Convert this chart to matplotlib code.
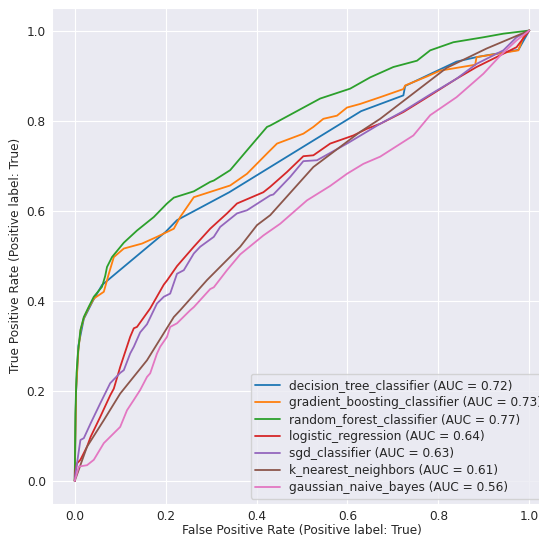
import matplotlib
matplotlib.use("Agg")
import matplotlib.pyplot as plt
import seaborn as sns

sns.set_style("darkgrid")
plt.rcParams['font.family'] = ['DejaVu Sans']

names = ["decision_tree_classifier", "gradient_boosting_classifier", "random_forest_classifier",
         "logistic_regression", "sgd_classifier", "k_nearest_neighbors", "gaussian_naive_bayes"]
aucs = [0.72, 0.73, 0.77, 0.64, 0.63, 0.61, 0.56]

dt_fpr = [0, 0.003, 0.008, 0.02, 0.04, 0.06, 0.20, 0.225, 0.34, 0.63, 0.723, 0.727, 0.84, 0.884, 0.976, 1.0]
dt_tpr = [0, 0.20, 0.30, 0.36, 0.40, 0.435, 0.553, 0.579, 0.641, 0.821, 0.856, 0.877, 0.931, 0.941, 0.957, 1.0]

gb_fpr = [0, 0.003, 0.008, 0.013, 0.02, 0.031, 0.042, 0.064, 0.075, 0.086, 0.108, 0.148, 0.181, 0.218, 0.232,
          0.262, 0.342, 0.379, 0.426, 0.445, 0.503, 0.525, 0.547, 0.577, 0.599, 0.628, 0.672, 0.723, 0.727,
          0.775, 0.804, 0.881, 0.884, 0.958, 0.976, 0.987, 1.0]
gb_tpr = [0, 0.20, 0.29, 0.335, 0.362, 0.385, 0.405, 0.42, 0.46, 0.497, 0.516, 0.527, 0.542, 0.560, 0.586,
          0.630, 0.656, 0.682, 0.730, 0.749, 0.771, 0.786, 0.804, 0.811, 0.829, 0.837, 0.852, 0.870, 0.878,
          0.898, 0.911, 0.924, 0.941, 0.953, 0.956, 0.985, 1.0]

rf_fpr = [0, 0.0015, 0.004, 0.007, 0.0125, 0.02, 0.031, 0.042, 0.06, 0.067, 0.071, 0.082, 0.108, 0.137,
          0.174, 0.203, 0.218, 0.262, 0.298, 0.306, 0.342, 0.379, 0.423, 0.43, 0.54, 0.606, 0.65, 0.701,
          0.753, 0.782, 0.833, 0.899, 0.943, 1.0]
rf_tpr = [0, 0.15, 0.24, 0.283, 0.335, 0.364, 0.387, 0.409, 0.431, 0.455, 0.475, 0.497, 0.529, 0.556,
          0.586, 0.616, 0.629, 0.643, 0.664, 0.667, 0.690, 0.734, 0.786, 0.789, 0.849, 0.871, 0.896, 0.919,
          0.933, 0.956, 0.974, 0.985, 0.993, 1.0]

lr_fpr = [0, 0.0015, 0.005, 0.0125, 0.027, 0.035, 0.056, 0.078, 0.086, 0.1, 0.122, 0.13, 0.137, 0.166,
          0.196, 0.203, 0.225, 0.262, 0.298, 0.335, 0.357, 0.415, 0.43, 0.467, 0.503, 0.525, 0.562, 0.613,
          0.643, 0.672, 0.723, 0.782, 0.840, 0.884, 0.928, 0.972, 1.0]
lr_tpr = [0, 0.024, 0.039, 0.047, 0.076, 0.098, 0.142, 0.190, 0.205, 0.253, 0.320, 0.339, 0.342, 0.383,
          0.436, 0.445, 0.477, 0.520, 0.560, 0.594, 0.616, 0.641, 0.653, 0.686, 0.721, 0.723, 0.749, 0.767,
          0.782, 0.793, 0.819, 0.856, 0.893, 0.919, 0.941, 0.963, 1.0]

sgd_fpr = [0, 0.0015, 0.0125, 0.02, 0.035, 0.056, 0.078, 0.1, 0.108, 0.122, 0.13, 0.144, 0.159, 0.181,
           0.196, 0.21, 0.225, 0.24, 0.262, 0.276, 0.306, 0.32, 0.357, 0.379, 0.43, 0.437, 0.474, 0.503,
           0.533, 0.599, 0.672, 0.723, 0.782, 0.840, 0.884, 0.943, 0.972, 1.0]
sgd_tpr = [0, 0.015, 0.091, 0.095, 0.128, 0.172, 0.217, 0.240, 0.246, 0.283, 0.298, 0.330, 0.348, 0.394,
           0.409, 0.416, 0.460, 0.468, 0.505, 0.520, 0.542, 0.564, 0.594, 0.601, 0.634, 0.636, 0.675, 0.710,
           0.712, 0.749, 0.793, 0.821, 0.858, 0.893, 0.926, 0.956, 0.985, 1.0]

knn_fpr = [0, 0.027, 0.064, 0.1, 0.159, 0.218, 0.232, 0.291, 0.364, 0.401, 0.43, 0.525, 0.628, 0.672,
           0.818, 0.906, 1.0]
knn_tpr = [0, 0.076, 0.135, 0.194, 0.268, 0.364, 0.379, 0.446, 0.520, 0.568, 0.590, 0.697, 0.775, 0.804,
           0.917, 0.960, 1.0]

gnb_fpr = [0, 0.0015, 0.009, 0.027, 0.042, 0.064, 0.071, 0.086, 0.1, 0.115, 0.13, 0.144, 0.159, 0.166,
           0.181, 0.188, 0.203, 0.21, 0.225, 0.254, 0.262, 0.298, 0.306, 0.335, 0.364, 0.415, 0.452, 0.511,
           0.562, 0.599, 0.635, 0.672, 0.745, 0.782, 0.840, 0.899, 0.936, 0.972, 1.0]
gnb_tpr = [0, 0.006, 0.032, 0.035, 0.047, 0.084, 0.091, 0.106, 0.12, 0.157, 0.180, 0.202, 0.231, 0.239,
           0.283, 0.298, 0.320, 0.342, 0.350, 0.379, 0.386, 0.426, 0.430, 0.468, 0.503, 0.545, 0.571, 0.623,
           0.655, 0.682, 0.704, 0.720, 0.767, 0.812, 0.852, 0.904, 0.944, 0.978, 1.0]

curves = [(dt_fpr, dt_tpr), (gb_fpr, gb_tpr), (rf_fpr, rf_tpr), (lr_fpr, lr_tpr),
          (sgd_fpr, sgd_tpr), (knn_fpr, knn_tpr), (gnb_fpr, gnb_tpr)]
colors = ["#1f77b4", "#ff7f0e", "#2ca02c", "#d62728", "#9467bd", "#8c564b", "#e377c2"]

FS = 8.7
fig = plt.figure(figsize=(5.39, 5.38), dpi=100)
ax = fig.add_axes([52 / 539, (538 - 503.5) / 538, 500 / 539, 495.5 / 538])

for (f, t), name, auc, c in zip(curves, names, aucs, colors):
    ax.plot(f, t, color=c, lw=1.3, label=f"{name} (AUC = {auc:.2f})")

ax.set_xlim(-0.05, 1.05)
ax.set_ylim(-0.05, 1.05)
ax.set_xticks([0.0, 0.2, 0.4, 0.6, 0.8, 1.0])
ax.set_yticks([0.0, 0.2, 0.4, 0.6, 0.8, 1.0])
ax.tick_params(labelsize=FS, colors="#262626", length=0, pad=4.5)
ax.set_xlabel("False Positive Rate (Positive label: True)", fontsize=FS, color="#262626", labelpad=1)
ax.set_ylabel("True Positive Rate (Positive label: True)", fontsize=FS, color="#262626", labelpad=3)
ax.legend(loc="lower right", fontsize=FS, borderaxespad=0.4, labelspacing=0.33)

fig.savefig("out.png", dpi=100)
